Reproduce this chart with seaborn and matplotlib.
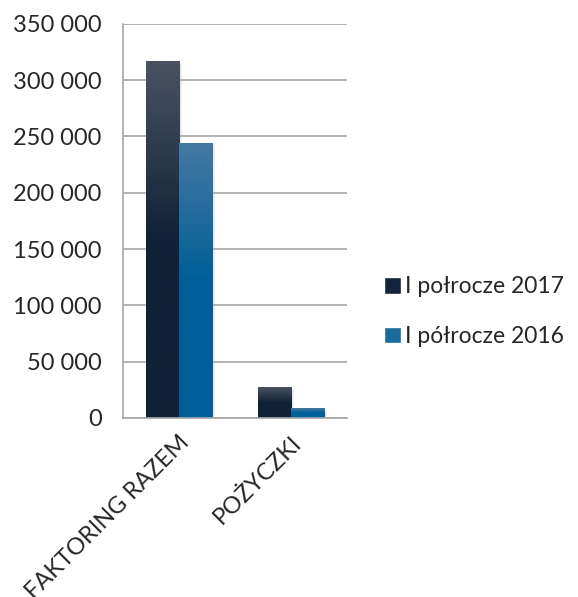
import numpy as np
import pandas as pd
import seaborn as sns
import matplotlib.pyplot as plt
from matplotlib.colors import LinearSegmentedColormap
from matplotlib.patches import Patch
from matplotlib.ticker import FuncFormatter

# dane
kategorie = ['FAKTORING RAZEM', 'POŻYCZKI']
serie = ['I połrocze 2017', 'I półrocze 2016']
wartosci_2017 = [317000, 27300]
wartosci_2016 = [244500, 8600]

df = pd.DataFrame({
    'kategoria': kategorie * 2,
    'okres': [serie[0]] * 2 + [serie[1]] * 2,
    'wartosc': wartosci_2017 + wartosci_2016,
})

sns.set_style('white')
plt.rcParams['font.family'] = ['Lato', 'DejaVu Sans']

kolory = ['#12243b', '#1a6a9e']
gradienty = [('#4b5361', '#0f2239'), ('#4679a2', '#005f98')]

fig = plt.figure(figsize=(5.78, 5.97), dpi=100)
ax = fig.add_axes([0.212, 0.300, 0.388, 0.660])

sns.barplot(data=df, x='kategoria', y='wartosc', hue='okres', palette=kolory,
            width=0.59, ax=ax, legend=False, saturation=1)

# gradient w slupkach
kontenery = list(ax.containers)
for i, cont in enumerate(kontenery):
    cmap = LinearSegmentedColormap.from_list('g%d' % i, [gradienty[i][0], gradienty[i][1], gradienty[i][1]])
    for bar in cont:
        x0, y0 = bar.get_x(), bar.get_y()
        w, h = bar.get_width(), bar.get_height()
        # cien
        ax.bar(x0 + w / 2 + 0.02, h, width=w, bottom=y0 - 1500, color='#000000',
               alpha=0.12, zorder=1.5)
        grad = np.linspace(0, 1, 256).reshape(-1, 1)
        im = ax.imshow(grad, cmap=cmap, aspect='auto', extent=[x0, x0 + w, y0, y0 + h],
                       origin='upper', zorder=2.5)
        im.set_clip_path(bar)
        bar.set_zorder(2)

ax.set_xlim(-0.5, 1.5)
ax.set_ylim(0, 350000)
ax.set_yticks(np.arange(0, 350001, 50000))
ax.yaxis.set_major_formatter(FuncFormatter(lambda v, p: '{:,.0f}'.format(v).replace(',', ' ')))
ax.grid(axis='y', color='#a6a6a6', linewidth=1.2)
ax.set_axisbelow(True)
for s in ['top', 'right']:
    ax.spines[s].set_visible(False)
ax.spines['left'].set_color('#a6a6a6')
ax.spines['bottom'].set_color('#a6a6a6')
ax.spines['left'].set_linewidth(1.2)
ax.spines['bottom'].set_linewidth(1.2)
ax.set_xlabel('')
ax.set_ylabel('')
ax.tick_params(axis='y', labelsize=17, pad=15, length=0)
ax.tick_params(axis='x', labelsize=17, pad=10, length=0)
plt.setp(ax.get_xticklabels(), rotation=45, ha='right', rotation_mode='anchor')

uchwyty = [Patch(facecolor=kolory[0]), Patch(facecolor=kolory[1])]
fig.legend(uchwyty, serie, loc='center left', bbox_to_anchor=(0.636, 0.478),
           frameon=False, fontsize=16.5, handlelength=0.75, handleheight=0.75,
           handletextpad=0.2, labelspacing=1.25, borderpad=0.2)

plt.savefig('out.png', dpi=100)
